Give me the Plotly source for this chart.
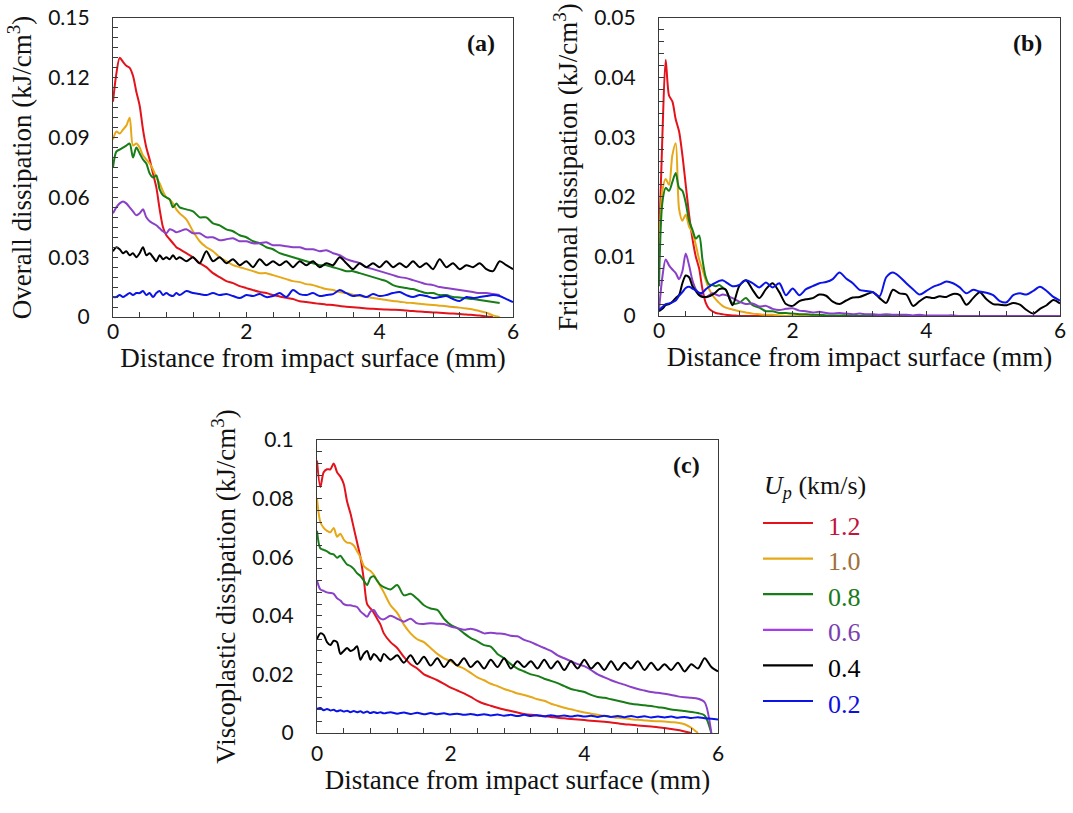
import plotly.graph_objects as go

# Distance from impact surface (mm): 0.05 steps to 1 mm, then 0.1 steps
X_MM = [0.0, 0.05, 0.1, 0.15, 0.2, 0.25, 0.3, 0.35, 0.4, 0.45, 0.5, 0.55, 0.6, 0.65, 0.7,
        0.75, 0.8, 0.85, 0.9, 0.95, 1.0,
        1.1, 1.2, 1.3, 1.4, 1.5, 1.6, 1.7, 1.8, 1.9, 2.0,
        2.1, 2.2, 2.3, 2.4, 2.5, 2.6, 2.7, 2.8, 2.9, 3.0,
        3.1, 3.2, 3.3, 3.4, 3.5, 3.6, 3.7, 3.8, 3.9, 4.0,
        4.1, 4.2, 4.3, 4.4, 4.5, 4.6, 4.7, 4.8, 4.9, 5.0,
        5.1, 5.2, 5.3, 5.4, 5.5, 5.6, 5.7, 5.8, 5.9, 6.0]

UP_LABELS = ["1.2", "1.0", "0.8", "0.6", "0.4", "0.2"]

# ---------------- (a) Overall dissipation (kJ/cm^3) ----------------
A_12 = [0.108, 0.122, 0.130, 0.128, 0.126, 0.125, 0.121, 0.113, 0.106, 0.094, 0.085, 0.079, 0.072, 0.065, 0.054,
        0.045, 0.041, 0.039, 0.037, 0.035, 0.034,
        0.032, 0.030, 0.027, 0.025, 0.022, 0.020, 0.018, 0.017, 0.0155, 0.0145,
        0.0135, 0.0126, 0.012, 0.011, 0.0103, 0.0096, 0.009, 0.0079, 0.0075, 0.007,
        0.0066, 0.0062, 0.006, 0.0055, 0.0052, 0.0049, 0.0046, 0.0043, 0.0041, 0.0039,
        0.0037, 0.0036, 0.0035, 0.0032, 0.003, 0.0028, 0.0025, 0.0023, 0.0021, 0.0019,
        0.0017, 0.0015, 0.0013, 0.001, 0.0007, 0.0003, 0.0, None, None, None]
A_10 = [0.089, 0.093, 0.092, 0.094, 0.096, 0.100, 0.086, 0.087, 0.085, 0.081, 0.079, 0.077, 0.074, 0.070, 0.067,
        0.063, 0.060, 0.059, 0.057, 0.054, 0.052,
        0.049, 0.043, 0.038, 0.035, 0.033, 0.030, 0.028, 0.026, 0.025, 0.024,
        0.023, 0.022, 0.022, 0.021, 0.020, 0.019, 0.018, 0.0175, 0.0165, 0.016,
        0.015, 0.014, 0.0135, 0.0125, 0.012, 0.0112, 0.0105, 0.010, 0.0095, 0.009,
        0.0085, 0.008, 0.0077, 0.0072, 0.007, 0.0066, 0.0063, 0.006, 0.0057, 0.0054,
        0.005, 0.0047, 0.0043, 0.0038, 0.003, 0.0022, 0.0008, 0.0, None, None]
A_08 = [0.075, 0.083, 0.084, 0.085, 0.086, 0.087, 0.080, 0.085, 0.082, 0.079, 0.077, 0.072, 0.070, 0.071, 0.064,
        0.061, 0.060, 0.059, 0.055, 0.057, 0.055,
        0.054, 0.053, 0.050, 0.050, 0.047, 0.046, 0.044, 0.043, 0.041, 0.040,
        0.038, 0.037, 0.035, 0.034, 0.032, 0.031, 0.030, 0.029, 0.028, 0.027,
        0.026, 0.026, 0.025, 0.024, 0.023, 0.023, 0.022, 0.021, 0.020, 0.019,
        0.018, 0.016, 0.015, 0.0145, 0.014, 0.013, 0.012, 0.012, 0.011, 0.011,
        0.010, 0.0098, 0.0094, 0.009, 0.0085, 0.008, 0.0075, 0.007, None, None]
A_06 = [0.052, 0.055, 0.057, 0.058, 0.057, 0.055, 0.053, 0.051, 0.052, 0.054, 0.050, 0.048, 0.047, 0.046, 0.0445,
        0.043, 0.042, 0.044, 0.0435, 0.0425, 0.043,
        0.044, 0.042, 0.042, 0.040, 0.040, 0.0385, 0.039, 0.0395, 0.038, 0.038,
        0.037, 0.037, 0.0375, 0.036, 0.036, 0.0355, 0.035, 0.035, 0.034, 0.034,
        0.033, 0.0335, 0.032, 0.031, 0.029, 0.028, 0.027, 0.025, 0.024, 0.023,
        0.022, 0.021, 0.020, 0.0195, 0.0185, 0.0175, 0.0165, 0.016, 0.015, 0.0145,
        0.014, 0.0135, 0.013, 0.0125, 0.012, 0.012, 0.0115, 0.011, None, None]
A_04 = [0.033, 0.035, 0.034, 0.032, 0.033, 0.031, 0.032, 0.030, 0.032, 0.035, 0.031, 0.032, 0.030, 0.028, 0.031,
        0.029, 0.030, 0.029, 0.031, 0.029, 0.030,
        0.028, 0.030, 0.027, 0.033, 0.028, 0.030, 0.027, 0.029, 0.026, 0.028,
        0.025, 0.029, 0.026, 0.028, 0.026, 0.028, 0.025, 0.028, 0.026, 0.028,
        0.025, 0.027, 0.026, 0.030, 0.027, 0.024, 0.027, 0.025, 0.027, 0.025,
        0.028, 0.025, 0.027, 0.025, 0.028, 0.025, 0.027, 0.024, 0.029, 0.025,
        0.027, 0.024, 0.026, 0.025, 0.027, 0.024, 0.023, 0.028, 0.026, 0.024]
A_02 = [0.010, 0.010, 0.011, 0.010, 0.011, 0.012, 0.011, 0.012, 0.012, 0.013, 0.011, 0.012, 0.010, 0.012, 0.013,
        0.011, 0.012, 0.011, 0.0105, 0.012, 0.011,
        0.013, 0.012, 0.0115, 0.011, 0.012, 0.011, 0.0115, 0.0105, 0.0095, 0.011,
        0.0105, 0.0115, 0.010, 0.0105, 0.012, 0.010, 0.0135, 0.0115, 0.011, 0.012,
        0.0105, 0.011, 0.0115, 0.0135, 0.012, 0.0105, 0.011, 0.010, 0.0115, 0.0105,
        0.011, 0.012, 0.0125, 0.011, 0.010, 0.011, 0.0105, 0.0095, 0.010, 0.0105,
        0.009, 0.008, 0.010, 0.0095, 0.010, 0.0105, 0.011, 0.0105, 0.009, 0.0075]

# ---------------- (b) Frictional dissipation (kJ/cm^3) ----------------
B_12 = [0.012, 0.030, 0.043, 0.037, 0.036, 0.033, 0.031, 0.027, 0.022, 0.017, 0.013, 0.010, 0.008, 0.0045, 0.0022,
        0.0012, 0.0008, 0.0005, 0.0004, 0.0003, 0.0002,
        0.0001, 0.0, 0.0, 0.0, 0.0, 0.0, 0.0, 0.0, 0.0, 0.0,
        0.0, 0.0, 0.0, 0.0, 0.0, 0.0, 0.0, 0.0, 0.0, 0.0,
        0.0, 0.0, 0.0, 0.0, 0.0, 0.0, 0.0, 0.0, 0.0, 0.0,
        0.0, 0.0, 0.0, 0.0, 0.0, 0.0, 0.0, 0.0, 0.0, 0.0,
        0.0, 0.0, 0.0, 0.0, 0.0, 0.0, 0.0, None, None, None]
B_10 = [0.009, 0.021, 0.023, 0.022, 0.027, 0.029, 0.018, 0.016, 0.017, 0.015, 0.014, 0.012, 0.0095, 0.0078, 0.006,
        0.0045, 0.0035, 0.0028, 0.0022, 0.0017, 0.0014,
        0.0011, 0.0008, 0.0006, 0.0004, 0.0003, 0.0002, 0.0002, 0.0001, 0.0, 0.0,
        0.0, 0.0, 0.0, 0.0, 0.0, 0.0, 0.0, 0.0, 0.0, 0.0,
        0.0, 0.0, 0.0, 0.0, 0.0, 0.0, 0.0, 0.0, 0.0, 0.0,
        0.0, 0.0, 0.0, 0.0, 0.0, 0.0, 0.0, 0.0, 0.0, 0.0,
        0.0, 0.0, 0.0, 0.0, 0.0, 0.0, 0.0, 0.0, None, None]
B_08 = [0.005, 0.019, 0.0215, 0.021, 0.0225, 0.024, 0.0215, 0.021, 0.019, 0.016, 0.0145, 0.013, 0.0135, 0.0095, 0.0065,
        0.0053, 0.0052, 0.005, 0.0052, 0.0048, 0.0044,
        0.0021, 0.0022, 0.003, 0.0018, 0.0014, 0.0008, 0.0008, 0.0005, 0.0005, 0.0004,
        0.0003, 0.0003, 0.0002, 0.0002, 0.0001, 0.0001, 0.0001, 0.0001, 0.0, 0.0,
        0.0, 0.0, 0.0, 0.0, 0.0, 0.0, 0.0, 0.0, 0.0, 0.0,
        0.0, 0.0, 0.0, 0.0, 0.0, 0.0, 0.0, 0.0, 0.0, 0.0,
        0.0, 0.0, 0.0, 0.0, 0.0, 0.0, 0.0, 0.0, None, None]
B_06 = [0.001, 0.0065, 0.0095, 0.0085, 0.0078, 0.0072, 0.0062, 0.0075, 0.0105, 0.0085, 0.006, 0.0045, 0.0038, 0.0034, 0.0031,
        0.0035, 0.0038, 0.0036, 0.0034, 0.0036, 0.0035,
        0.003, 0.0024, 0.002, 0.0021, 0.0016, 0.0017, 0.0012, 0.001, 0.0012, 0.0013,
        0.0009, 0.0008, 0.0006, 0.0007, 0.0005, 0.0004, 0.0005, 0.0004, 0.0003, 0.0004,
        0.0003, 0.0003, 0.0002, 0.0003, 0.0002, 0.0002, 0.0002, 0.0001, 0.0002, 0.0001,
        0.0001, 0.0001, 0.0001, 0.0001, 0.0, 0.0, 0.0, 0.0, 0.0, 0.0,
        0.0, 0.0, 0.0, 0.0, 0.0, 0.0, 0.0, 0.0, 0.0, 0.0]
B_04 = [0.0008, 0.0012, 0.0018, 0.002, 0.0024, 0.003, 0.0035, 0.0055, 0.0068, 0.0065, 0.005, 0.0042, 0.0035, 0.0032, 0.0032,
        0.0033, 0.0036, 0.004, 0.0045, 0.0046, 0.0044,
        0.0018, 0.005, 0.006, 0.0044, 0.003, 0.0045, 0.0055, 0.004, 0.002, 0.0017,
        0.0025, 0.0028, 0.003, 0.0036, 0.0034, 0.0024, 0.002, 0.0026, 0.0031, 0.0032,
        0.0036, 0.004, 0.003, 0.0022, 0.0044, 0.0038, 0.0036, 0.0017, 0.0025, 0.0032,
        0.003, 0.0033, 0.0032, 0.0037, 0.0035, 0.0019, 0.003, 0.004, 0.0028, 0.002,
        0.0019, 0.0018, 0.0022, 0.0019, 0.001, 0.0004, 0.0012, 0.0018, 0.0027, 0.0021]
B_02 = [0.001, 0.0015, 0.002, 0.0021, 0.0023, 0.0026, 0.0034, 0.004, 0.0047, 0.0049, 0.0046, 0.0043, 0.0039, 0.0039, 0.0045,
        0.0049, 0.0053, 0.0056, 0.0059, 0.006, 0.0057,
        0.005, 0.0052, 0.006, 0.0055, 0.0048, 0.0056, 0.0048, 0.0055, 0.0035, 0.0046,
        0.0035, 0.0045, 0.005, 0.0055, 0.0057, 0.0062, 0.0073, 0.0063, 0.0055, 0.0044,
        0.0042, 0.004, 0.0033, 0.0065, 0.0073, 0.0066, 0.0055, 0.0045, 0.0036, 0.0042,
        0.0049, 0.0053, 0.0058, 0.0055, 0.0048, 0.0038, 0.0044, 0.0041, 0.0039, 0.0035,
        0.0025, 0.0023, 0.0035, 0.0038, 0.0036, 0.0042, 0.0049, 0.0042, 0.0032, 0.0026]

# ---------------- (c) Viscoplastic dissipation (kJ/cm^3) ----------------
C_12 = [0.093, 0.084, 0.089, 0.090, 0.090, 0.092, 0.089, 0.0875, 0.085, 0.079, 0.075, 0.070, 0.065, 0.060, 0.0525,
        0.044, 0.0425, 0.041, 0.039, 0.037, 0.034,
        0.031, 0.029, 0.026, 0.0235, 0.022, 0.020, 0.019, 0.018, 0.0168, 0.0155,
        0.0145, 0.0135, 0.0123, 0.011, 0.010, 0.0093, 0.0086, 0.008, 0.0075, 0.007,
        0.0065, 0.0062, 0.006, 0.0057, 0.0055, 0.0052, 0.005, 0.0048, 0.0046, 0.0044,
        0.0042, 0.004, 0.0038, 0.0036, 0.0033, 0.003, 0.0028, 0.0026, 0.0024, 0.0022,
        0.002, 0.0017, 0.0014, 0.001, 0.0005, 0.0, None, None, None, None]
C_10 = [0.080, 0.072, 0.070, 0.069, 0.0685, 0.070, 0.067, 0.068, 0.066, 0.065, 0.0648, 0.064, 0.062, 0.060, 0.057,
        0.056, 0.0553, 0.054, 0.052, 0.050, 0.048,
        0.0436, 0.041, 0.037, 0.034, 0.032, 0.031, 0.029, 0.027, 0.0255, 0.0245,
        0.023, 0.022, 0.0205, 0.019, 0.018, 0.0168, 0.016, 0.015, 0.0143, 0.0135,
        0.013, 0.0123, 0.0115, 0.011, 0.010, 0.0093, 0.0086, 0.0081, 0.0075, 0.007,
        0.0066, 0.0062, 0.0058, 0.0055, 0.0052, 0.005, 0.0047, 0.0045, 0.0043, 0.0041,
        0.004, 0.0039, 0.0037, 0.0035, 0.003, 0.0018, 0.0, None, None, None]
C_08 = [0.069, 0.063, 0.0625, 0.062, 0.0612, 0.061, 0.0598, 0.0605, 0.059, 0.0575, 0.057, 0.056, 0.0545, 0.0536, 0.052,
        0.0505, 0.053, 0.0535, 0.052, 0.0505, 0.0498,
        0.049, 0.0505, 0.047, 0.0475, 0.0458, 0.0436, 0.0425, 0.042, 0.039, 0.0369,
        0.0358, 0.034, 0.0324, 0.0313, 0.030, 0.0295, 0.027, 0.0255, 0.0235, 0.022,
        0.021, 0.020, 0.0195, 0.0185, 0.0178, 0.017, 0.016, 0.015, 0.0145, 0.014,
        0.013, 0.0123, 0.012, 0.0115, 0.011, 0.0105, 0.010, 0.0097, 0.0095, 0.0092,
        0.0088, 0.0085, 0.008, 0.0078, 0.0075, 0.0072, 0.0068, 0.006, 0.0, None]
C_06 = [0.052, 0.049, 0.0485, 0.048, 0.0478, 0.0475, 0.046, 0.0452, 0.044, 0.0436, 0.0436, 0.0433, 0.043, 0.0415, 0.0405,
        0.0397, 0.0415, 0.042, 0.0402, 0.039, 0.0388,
        0.040, 0.039, 0.038, 0.039, 0.0374, 0.0372, 0.0375, 0.0373, 0.0372, 0.0363,
        0.0358, 0.0352, 0.0356, 0.035, 0.034, 0.0342, 0.034, 0.0338, 0.0332, 0.033,
        0.0318, 0.031, 0.030, 0.029, 0.028, 0.0265, 0.0255, 0.0245, 0.0235, 0.0228,
        0.0215, 0.020, 0.019, 0.018, 0.0172, 0.0165, 0.0157, 0.015, 0.0145, 0.014,
        0.0137, 0.0134, 0.013, 0.0125, 0.0122, 0.012, 0.0117, 0.0105, 0.0, None]
C_04 = [0.032, 0.034, 0.0335, 0.031, 0.030, 0.0315, 0.031, 0.027, 0.028, 0.029, 0.028, 0.0285, 0.0296, 0.025, 0.027,
        0.028, 0.025, 0.027, 0.026, 0.0245, 0.027,
        0.025, 0.0265, 0.024, 0.0265, 0.0235, 0.026, 0.023, 0.0255, 0.0225, 0.025,
        0.023, 0.0255, 0.0225, 0.0245, 0.022, 0.025, 0.0225, 0.0255, 0.022, 0.0245,
        0.0225, 0.0245, 0.022, 0.025, 0.022, 0.0245, 0.0215, 0.0245, 0.022, 0.025,
        0.022, 0.024, 0.0215, 0.0245, 0.0215, 0.024, 0.022, 0.0245, 0.0215, 0.024,
        0.0215, 0.0235, 0.0215, 0.024, 0.021, 0.0235, 0.022, 0.0255, 0.0225, 0.021]
C_02 = [0.0083, 0.0085, 0.0078, 0.0082, 0.0077, 0.0079, 0.0074, 0.0078, 0.0073, 0.0076, 0.0071, 0.0075, 0.0071, 0.0074, 0.0069,
        0.0073, 0.0068, 0.0072, 0.0068, 0.0071, 0.0067,
        0.0071, 0.0066, 0.007, 0.0065, 0.0069, 0.0064, 0.0068, 0.0064, 0.0067, 0.0063,
        0.0066, 0.0062, 0.0065, 0.0061, 0.0064, 0.006, 0.0063, 0.0059, 0.0062, 0.0058,
        0.0062, 0.0058, 0.0061, 0.0057, 0.0061, 0.0057, 0.006, 0.0056, 0.006, 0.0056,
        0.0059, 0.0055, 0.0059, 0.0055, 0.0058, 0.0054, 0.0058, 0.0054, 0.0057, 0.0053,
        0.0056, 0.0053, 0.0056, 0.0052, 0.0055, 0.0051, 0.0054, 0.005, 0.0049, 0.0046]

LINE_COLORS = ["#e3121b", "#e6a817", "#177d17", "#8a40c8", "#000000", "#0a14e6"]
LEGEND_LINE_COLORS = ["#e3121b", "#e6a817", "#177d17", "#a63cf0", "#000000", "#0a14e6"]
TEXT_COLORS = ["#c0143c", "#a0703a", "#1a7a1a", "#7a3fb0", "#000000", "#1010dd"]

PANELS = [
    ("x", "y", [A_12, A_10, A_08, A_06, A_04, A_02]),
    ("x2", "y2", [B_12, B_10, B_08, B_06, B_04, B_02]),
    ("x3", "y3", [C_12, C_10, C_08, C_06, C_04, C_02]),
]

fig = go.Figure()
for p, (xa, ya, series) in enumerate(PANELS):
    for i, vals in enumerate(series):
        fig.add_trace(go.Scatter(
            x=X_MM, y=vals, mode="lines", xaxis=xa, yaxis=ya,
            line=dict(color=LINE_COLORS[i], width=2, shape="spline", smoothing=0.8),
            name=UP_LABELS[i], showlegend=False, hoverinfo="skip",
        ))

W, H = 1073, 813
FRAME = "#3a3a3a"
TICKFONT = dict(family="Lato", size=21, color="#111")
TITLEFONT = dict(family="Liberation Serif", size=27, color="#111")


def xax(left, right, anchor, lab_off, title_off):
    return dict(
        domain=[left / W, right / W], range=[0, 6], tick0=0, dtick=2, anchor=anchor,
        automargin=False,
        ticks="inside", ticklen=5, tickwidth=1.2, tickcolor=FRAME,
        minor=dict(dtick=0.4, ticks="inside", ticklen=5, tickwidth=1.2, tickcolor=FRAME),
        showline=True, linecolor=FRAME, linewidth=1.3, mirror=True,
        showgrid=False, zeroline=False, tickfont=TICKFONT, ticklabelstandoff=lab_off,
        title=dict(text="Distance from impact surface (mm)", font=TITLEFONT, standoff=title_off),
    )


def yax(top_px, bottom_px, ymax, dtick, minor, title, anchor):
    return dict(
        domain=[1 - bottom_px / H, 1 - top_px / H], range=[0, ymax], tick0=0, dtick=dtick,
        anchor=anchor, automargin=False,
        ticks="inside", ticklen=5, tickwidth=1.2, tickcolor=FRAME,
        minor=dict(dtick=minor, ticks="inside", ticklen=5, tickwidth=1.2, tickcolor=FRAME),
        showline=True, linecolor=FRAME, linewidth=1.3, mirror=True,
        showgrid=False, zeroline=False, tickfont=TICKFONT, ticklabelstandoff=18,
        title=dict(text=title, font=TITLEFONT, standoff=8),
    )


fig.update_layout(
    width=W, height=H, margin=dict(l=0, r=0, t=0, b=0, autoexpand=False),
    paper_bgcolor="white", plot_bgcolor="white",
    font=dict(family="Liberation Serif"),
    xaxis=xax(113, 513, "y", -4, 0), xaxis2=xax(659, 1060, "y2", -4, 0),
    xaxis3=xax(317, 718, "y3", 2, 1),
    yaxis=yax(18, 317, 0.15, 0.03, 0.005, "Overall dissipation (kJ/cm<sup>3</sup>)", "x"),
    yaxis2=yax(18, 316, 0.05, 0.01, 0.002, "Frictional dissipation (kJ/cm<sup>3</sup>)", "x2"),
    yaxis3=yax(440, 733, 0.1, 0.02, 0.004, "Viscoplastic dissipation (kJ/cm<sup>3</sup>)", "x3"),
    showlegend=False,
)

for ref, lab in [("x", "(a)"), ("x2", "(b)"), ("x3", "(c)")]:
    yref = ref.replace("x", "y")
    fig.add_annotation(
        xref=ref + " domain", yref=yref + " domain", x=0.96, y=0.915,
        xanchor="right", yanchor="middle", showarrow=False,
        text="<b>%s</b>" % lab, font=dict(family="Liberation Serif", size=24, color="#111"),
    )

# Legend block (U_p, km/s)
LEG_X0, LEG_X1, LEG_TXT = 763, 813, 826
LEG_TITLE_Y, LEG_Y0, LEG_DY = 487, 523, 35.6
fig.add_annotation(
    xref="paper", yref="paper", x=762 / W, y=1 - LEG_TITLE_Y / H, xanchor="left", yanchor="middle",
    showarrow=False, text="<i>U<sub>p</sub></i> (km/s)",
    font=dict(family="Liberation Serif", size=26, color="#111"),
)
for i, lab in enumerate(UP_LABELS):
    yy = LEG_Y0 + i * LEG_DY
    fig.add_shape(type="line", xref="paper", yref="paper",
                  x0=LEG_X0 / W, x1=LEG_X1 / W, y0=1 - yy / H, y1=1 - yy / H,
                  line=dict(color=LEGEND_LINE_COLORS[i], width=2.2))
    fig.add_annotation(
        xref="paper", yref="paper", x=LEG_TXT / W, y=1 - (yy + 3) / H,
        xanchor="left", yanchor="middle", showarrow=False, text=lab,
        font=dict(family="Liberation Serif", size=26, color=TEXT_COLORS[i]),
    )

fig.write_html("out.html")
